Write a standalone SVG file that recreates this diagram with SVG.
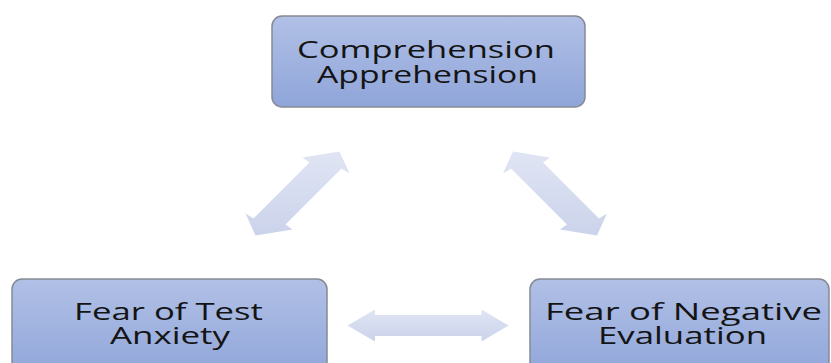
<svg xmlns="http://www.w3.org/2000/svg" width="831" height="363" viewBox="0 0 831 363">
  <defs>
    <linearGradient id="boxFill" x1="0" y1="0" x2="0" y2="1">
      <stop offset="0" stop-color="#b1c0e6"/>
      <stop offset="1" stop-color="#8fa5d9"/>
    </linearGradient>
    <linearGradient id="arrowFill" x1="0" y1="0" x2="0" y2="1">
      <stop offset="0" stop-color="#e0e5f4"/>
      <stop offset="1" stop-color="#cbd3eb"/>
    </linearGradient>
    <polygon id="diagArrow" points="42,-42 52,-20 44,-25 -12,31 -5,36 -42,42 -52,20 -44,25 12,-31 5,-36"/>
    <style>
      .box { fill: url(#boxFill); stroke: #858a94; stroke-width: 1.5; }
      .arrow { fill: url(#arrowFill); stroke: none; }
      .label { font-family: "Open Sans", "Noto Sans", "Liberation Sans", sans-serif; font-size: 23px; fill: #141414; text-anchor: middle; }
    </style>
  </defs>
  <rect width="831" height="363" fill="#ffffff"/>

  <g id="connectors">
    <use href="#diagArrow" class="arrow" transform="translate(297.5,193.5)"/>
    <use href="#diagArrow" class="arrow" transform="translate(555,193.5) scale(-1,1)"/>
    <polygon class="arrow" points="347.5,325.5 375,309.5 375,315 481.5,315 481.5,309.5 508.5,325.5 481.5,341.5 481.5,336 375,336 375,341.5"/>
  </g>

  <g id="node-comprehension">
    <rect class="box" x="272" y="16" width="313" height="91" rx="10" ry="10"/>
    <text class="label" x="426" y="57.5" textLength="258" lengthAdjust="spacingAndGlyphs">Comprehension</text>
    <text class="label" x="427.5" y="82.5" textLength="221" lengthAdjust="spacingAndGlyphs">Apprehension</text>
  </g>

  <g id="node-test-anxiety">
    <rect class="box" x="12" y="279" width="315" height="100" rx="10" ry="10"/>
    <text class="label" x="168.5" y="319.5" textLength="189" lengthAdjust="spacingAndGlyphs">Fear of Test</text>
    <text class="label" x="170" y="344" textLength="120" lengthAdjust="spacingAndGlyphs">Anxiety</text>
  </g>

  <g id="node-negative-evaluation">
    <rect class="box" x="530" y="279" width="299" height="100" rx="10" ry="10"/>
    <text class="label" x="683.5" y="319.5" textLength="277" lengthAdjust="spacingAndGlyphs">Fear of Negative</text>
    <text class="label" x="682.5" y="344" textLength="169" lengthAdjust="spacingAndGlyphs">Evaluation</text>
  </g>
</svg>
